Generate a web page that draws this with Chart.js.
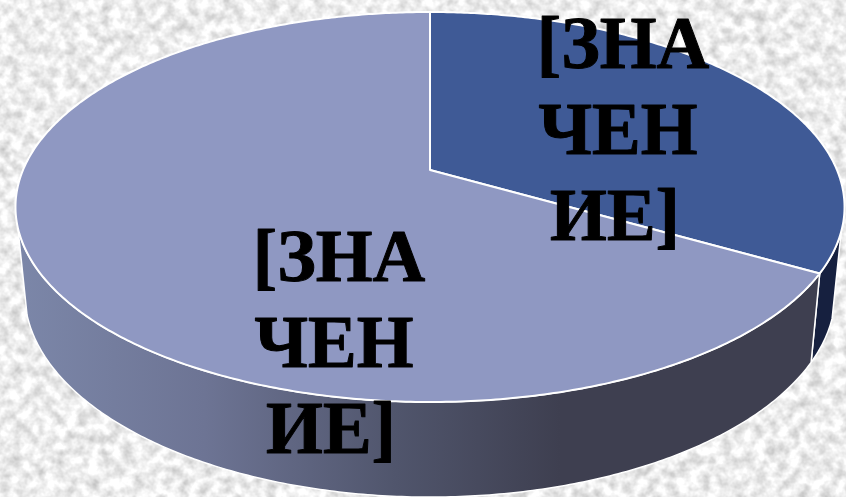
<!DOCTYPE html>
<html>
<head>
<meta charset="utf-8">
<script src="https://cdn.jsdelivr.net/npm/chart.js@4"></script>
<style>
    html, body { margin: 0; padding: 0; width: 846px; height: 497px; overflow: hidden; background: #eeeeee; }
    #bg { position: absolute; left: 0; top: 0; }
    #pie { position: absolute; left: 0; top: 0; }
</style>
</head>
<body>
<!-- marble paper behind the chart -->
<svg id="bg" width="846" height="497">
    <filter id="marble" x="0" y="0" width="100%" height="100%" color-interpolation-filters="sRGB">
        <feTurbulence type="fractalNoise" baseFrequency="0.09" numOctaves="3" seed="7"/>
        <feColorMatrix type="matrix" values="0.4 0 0 0 0.73  0.4 0 0 0 0.73  0.4 0 0 0 0.73  0 0 0 0 1"/>
        <feGaussianBlur stdDeviation="0.7"/>
    </filter>
    <rect width="846" height="497" filter="url(#marble)"/>
</svg>
<canvas id="pie" width="846" height="497"></canvas>
<script>
const categories = ['Доля 1', 'Доля 2'];
const seriesValues = [33.3, 66.7];
const sliceLabels = [
    ['[ЗНА', 'ЧЕН', 'ИЕ]'],
    ['[ЗНА', 'ЧЕН', 'ИЕ]']
];
const topColors = ['#3f5a96', '#8f98c2'];

// perspective of the tilted disc: top rim and bottom rim of the cylinder
const TOP_RIM = { cx: 430, cy: 170, a: 407, b: 188 };
const BOTTOM_RIM = { cx: 430, cy: 254, a: 398, b: 197 };
const TILT = -0.1897;
// the wall only shows between these angles
const WALL_FROM = 18 * Math.PI / 180;
const WALL_TO = 163 * Math.PI / 180;
const LABEL_POS = [{ x: 620, y: 68 }, { x: 336, y: 281 }];
const LABEL_LINE = 86;
const LINE_NUDGE = [3, -2, -5];

function rimPoint(rim, angle) {
    const u = Math.cos(angle);
    const v = Math.sin(angle);
    const w = 1 + TILT * v;
    return { x: rim.cx + rim.a * u / w, y: rim.cy + rim.b * v / w };
}

function traceRim(ctx, rim, from, to) {
    const steps = Math.max(2, Math.ceil(Math.abs(to - from) / 0.01));
    for (let i = 0; i <= steps; i++) {
        const p = rimPoint(rim, from + (to - from) * i / steps);
        ctx.lineTo(p.x, p.y);
    }
}

function wallFill(ctx, index) {
    if (index === 0) return '#16203f';
    const g = ctx.createLinearGradient(14, 0, 560, 0);
    g.addColorStop(0, '#7c87a9');
    g.addColorStop(0.35, '#6d7494');
    g.addColorStop(0.7, '#50556c');
    g.addColorStop(1, '#3e3f50');
    return g;
}

const disc3d = {
    id: 'disc3d',
    beforeDatasetsDraw(chart) {
        const ctx = chart.ctx;
        const arcs = chart.getDatasetMeta(0).data;
        ctx.save();
        ctx.lineJoin = 'round';

        // side wall first, the top face covers its upper edge
        arcs.forEach((arc, i) => {
            const from = Math.max(arc.startAngle, WALL_FROM);
            const to = Math.min(arc.endAngle, WALL_TO);
            if (to <= from) return;
            ctx.beginPath();
            traceRim(ctx, TOP_RIM, from, to);
            traceRim(ctx, BOTTOM_RIM, to, from);
            ctx.closePath();
            ctx.fillStyle = wallFill(ctx, i);
            ctx.fill();
            ctx.strokeStyle = '#ffffff';
            ctx.lineWidth = 1.5;
            ctx.stroke();
        });

        // top face
        arcs.forEach((arc, i) => {
            ctx.beginPath();
            ctx.moveTo(TOP_RIM.cx, TOP_RIM.cy);
            traceRim(ctx, TOP_RIM, arc.startAngle, arc.endAngle);
            ctx.closePath();
            ctx.fillStyle = topColors[i];
            ctx.fill();
            ctx.strokeStyle = '#ffffff';
            ctx.lineWidth = 2;
            ctx.stroke();
        });

        // labels
        ctx.fillStyle = '#000000';
        ctx.strokeStyle = '#000000';
        ctx.lineWidth = 1;
        ctx.font = 'bold 73px "Liberation Serif"';
        ctx.textAlign = 'center';
        ctx.textBaseline = 'alphabetic';
        sliceLabels.forEach((lines, i) => {
            lines.forEach((line, n) => {
                const x = LABEL_POS[i].x + LINE_NUDGE[n];
                const y = LABEL_POS[i].y + n * LABEL_LINE;
                ctx.fillText(line, x, y);
                ctx.strokeText(line, x, y);
            });
        });

        ctx.restore();
        return false;
    }
};

new Chart(document.getElementById('pie'), {
    type: 'pie',
    data: {
        labels: categories,
        datasets: [{ data: seriesValues, backgroundColor: topColors, borderColor: '#ffffff', borderWidth: 2 }]
    },
    options: {
        responsive: false,
        animation: false,
        plugins: { legend: { display: false }, tooltip: { enabled: false } }
    },
    plugins: [disc3d]
});
</script>
</body>
</html>
